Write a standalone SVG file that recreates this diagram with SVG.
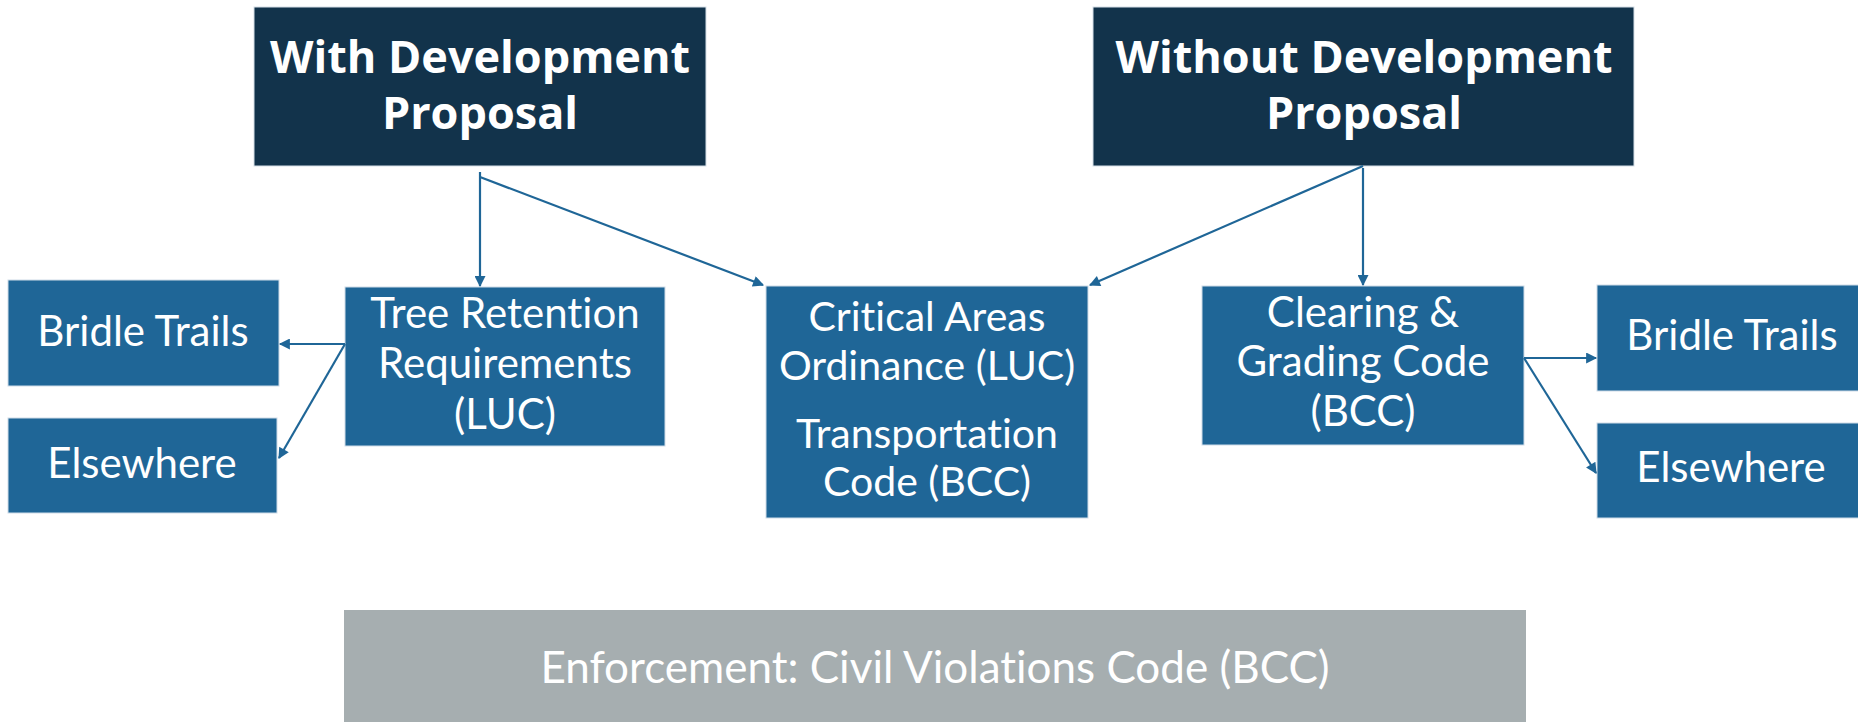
<svg xmlns="http://www.w3.org/2000/svg" width="1858" height="722" viewBox="0 0 1858 722">
<defs>
<style>
.dark{fill:#12334b;stroke:#d6e0e8;stroke-width:1}
.blue{fill:#1f6697;stroke:#cfdce8;stroke-width:1}
.gray{fill:#a6aeb0}
.t{font-family:Lato,"Open Sans",sans-serif;fill:#ffffff;text-anchor:middle;font-size:42px;font-variant-ligatures:none}
.h{font-family:"Open Sans",Lato,sans-serif;fill:#ffffff;text-anchor:middle;font-size:45px;font-weight:bold}
.c{stroke:#1f6697;stroke-width:2.2;fill:none;marker-end:url(#ah)}
</style>
<marker id="ah" viewBox="0 0 10 10" refX="9" refY="5" markerWidth="13" markerHeight="11" markerUnits="userSpaceOnUse" orient="auto">
<path d="M0,0 L10,5 L0,10 z" fill="#1f6697"/>
</marker>
</defs>
<rect width="1858" height="722" fill="#ffffff"/>
<g id="with-dev">
<rect class="dark" x="254" y="7" width="452" height="159"/>
<text class="h" x="480" y="73">With Development</text>
<text class="h" x="480" y="129">Proposal</text>
</g>
<g id="without-dev">
<rect class="dark" x="1093" y="7" width="541" height="159"/>
<text class="h" x="1364" y="73">Without Development</text>
<text class="h" x="1364" y="129">Proposal</text>
</g>
<g id="bridle-left">
<rect class="blue" x="8" y="280" width="271" height="106"/>
<text class="t" x="143" y="346">Bridle Trails</text>
</g>
<g id="elsewhere-left">
<rect class="blue" x="8" y="418" width="269" height="95"/>
<text class="t" x="142" y="478">Elsewhere</text>
</g>
<g id="tree-retention">
<rect class="blue" x="345" y="287" width="320" height="159"/>
<text class="t" x="505" y="328">Tree Retention</text>
<text class="t" x="505" y="378">Requirements</text>
<text class="t" x="505" y="429">(LUC)</text>
</g>
<g id="critical-areas">
<rect class="blue" x="766" y="286" width="322" height="232"/>
<text class="t" x="927" y="331" style="font-size:41px">Critical Areas</text>
<text class="t" x="927" y="380" style="font-size:41px">Ordinance (LUC)</text>
<text class="t" x="927" y="448" style="font-size:41px">Transportation</text>
<text class="t" x="927" y="496" style="font-size:41px">Code (BCC)</text>
</g>
<g id="clearing-grading">
<rect class="blue" x="1202" y="286" width="322" height="159"/>
<text class="t" x="1363" y="327">Clearing &amp;</text>
<text class="t" x="1363" y="376">Grading Code</text>
<text class="t" x="1363" y="426">(BCC)</text>
</g>
<g id="bridle-right">
<rect class="blue" x="1597" y="285" width="270" height="106"/>
<text class="t" x="1732" y="350">Bridle Trails</text>
</g>
<g id="elsewhere-right">
<rect class="blue" x="1597" y="423" width="270" height="95"/>
<text class="t" x="1731" y="482">Elsewhere</text>
</g>
<g id="enforcement">
<rect class="gray" x="344" y="610" width="1182" height="112"/>
<text class="t" x="935" y="683" style="font-size:44px">Enforcement: Civil Violations Code (BCC)</text>
</g>
<g id="connectors">
<line class="c" x1="480" y1="172" x2="480" y2="286"/>
<line class="c" x1="480" y1="177" x2="763" y2="285"/>
<line class="c" x1="1363" y1="166" x2="1090" y2="285"/>
<line class="c" x1="1363" y1="168" x2="1363" y2="285"/>
<line class="c" x1="345" y1="344" x2="280" y2="344"/>
<line class="c" x1="345" y1="344" x2="279" y2="458"/>
<line class="c" x1="1524" y1="358" x2="1596" y2="358"/>
<line class="c" x1="1524" y1="358" x2="1596" y2="473"/>
</g>
</svg>
